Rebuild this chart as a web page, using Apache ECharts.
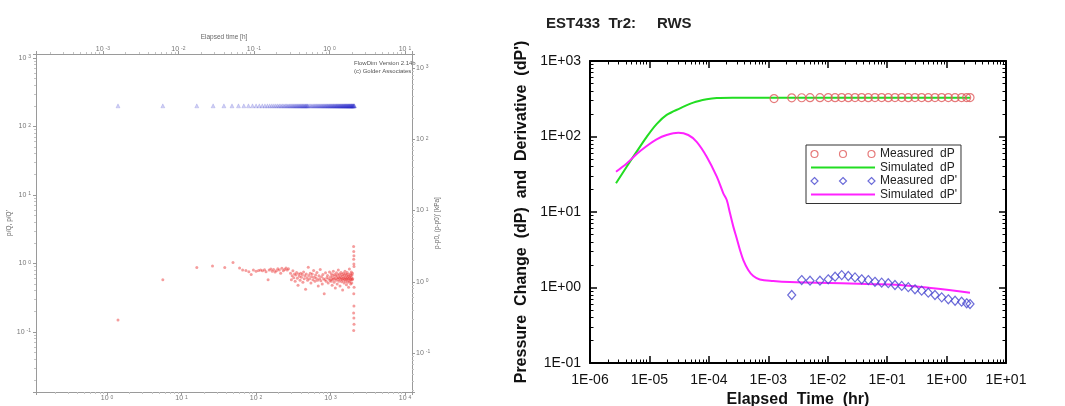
<!DOCTYPE html>
<html><head><meta charset="utf-8">
<script src="https://cdn.jsdelivr.net/npm/echarts@6/dist/echarts.min.js"></script>
<style>html,body{margin:0;padding:0;background:#fff}#c{width:1065px;height:406px}</style>
</head><body><div id="c"></div>
<script>
// ---------- Left panel (FlowDim plot) ----------
// p/Q (blue triangles): [elapsed time s, value]
const lhDp = [[1.4,200],[5.6,200],[16,200],[26.5,200],[37,200],[47.5,200],[58,200],[68.5,200],[79,200],[89.5,200],[100,200],[110.5,200],[121,200],[131.5,200],[142,200],[152.5,200],[163,200],[173.5,200],[184,200],[194.5,200],[205,200],[215.5,200],[226,200],[236.5,200],[247,200],[257.5,200],[268,200],[278.5,200],[289,200],[299.5,200],[310,200],[320.5,200],[331,200],[341.5,200],[352,200],[362.5,200],[373,200],[383.5,200],[394,200],[404.5,200],[415,200],[425.5,200],[436,200],[446.5,200],[457,200],[467.5,200],[478,200],[488.5,200],[499,200],[520,200],[541,200],[562,200],[583,200],[604,200],[625,200],[646,200],[667,200],[688,200],[709,200],[730,200],[751,200],[772,200],[793,200],[814,200],[835,200],[856,200],[877,200],[898,200],[919,200],[940,200],[961,200],[982,200],[1003,200],[1024,200],[1045,200],[1066,200],[1087,200],[1108,200],[1129,200],[1150,200],[1171,200],[1192,200],[1213,200],[1234,200],[1255,200],[1276,200],[1297,200],[1318,200],[1339,200],[1360,200],[1381,200],[1402,200],[1423,200],[1444,200],[1465,200],[1486,200],[1507,200],[1528,200],[1549,200],[1570,200],[1591,200],[1612,200],[1633,200],[1654,200],[1675,200],[1696,200],[1717,200],[1738,200],[1759,200],[1780,200],[1801,200],[1822,200],[1843,200],[1864,200],[1885,200],[1906,200],[1927,200],[1948,200],[1969,200],[1990,200],[2011,200],[2032,200],[2053,200],[2074,200],[2095,200]];
// p/Q' (red dots): [elapsed time s, value]
const lhDer = [[1.4,0.15],[5.6,0.58],[16,0.87],[26,0.92],[38,0.87],[49,1.03],[60,0.86],[66,0.8],[73,0.79],[80,0.76],[86,0.69],[92,0.8],[100,0.77],[108,0.79],[115,0.8],[122,0.78],[130,0.81],[136,0.76],[145,0.58],[150,0.8],[158,0.83],[165,0.77],[172,0.82],[180,0.75],[188,0.78],[196,0.84],[205,0.8],[214,0.72],[222,0.85],[232,0.78],[242,0.82],[252,0.86],[262,0.8],[272,0.84],
[290,0.72],[298,0.58],[305,0.66],[312,0.78],[320,0.62],[328,0.7],[335,0.55],[342,0.68],[350,0.74],[358,0.61],[366,0.48],[374,0.7],[382,0.65],[390,0.57],[398,0.72],[407,0.63],[416,0.69],[425,0.53],[434,0.75],[443,0.6],[452,0.66],[462,0.42],[472,0.7],[482,0.62],[492,0.57],[502,0.88],[512,0.67],[523,0.6],[534,0.72],[545,0.52],[556,0.64],[568,0.7],[580,0.58],[592,0.79],[604,0.63],[617,0.55],[630,0.68],[643,0.61],[656,0.74],[670,0.57],[684,0.47],[698,0.66],[712,0.6],[727,0.82],[742,0.56],[757,0.64],[773,0.5],[789,0.69],[805,0.6],[822,0.36],[839,0.58],[856,0.73],[874,0.55],[892,0.62],[910,0.67],[929,0.52],[948,0.6],[968,0.75],[988,0.57],
[1000,0.64],[1012,0.55],[1025,0.71],[1038,0.6],[1050,0.48],[1063,0.67],[1076,0.58],[1089,0.77],[1102,0.62],[1116,0.53],[1130,0.69],[1144,0.6],[1158,0.44],[1172,0.66],[1186,0.57],[1200,0.73],[1214,0.62],[1228,0.5],[1242,0.68],[1256,0.59],[1270,0.8],[1284,0.63],[1298,0.55],[1312,0.7],[1326,0.61],[1340,0.47],[1354,0.66],[1368,0.58],[1382,0.74],[1396,0.62],[1410,0.54],[1424,0.69],[1438,0.6],[1452,0.41],[1466,0.65],[1480,0.57],[1494,0.72],[1508,0.61],[1522,0.52],[1536,0.68],[1550,0.59],[1564,0.77],[1578,0.63],[1592,0.55],[1606,0.7],[1620,0.6],[1634,0.49],[1648,0.66],[1662,0.58],[1676,0.74],[1690,0.62],[1704,0.53],[1718,0.69],[1732,0.6],[1746,0.45],[1760,0.65],[1774,0.57],[1788,0.83],[1802,0.63],[1816,0.54],[1830,0.7],[1844,0.6],[1858,0.5],[1872,0.67],[1886,0.58],[1900,0.75],[1914,0.62],[1928,0.52],[1942,0.68],[1956,0.58],[1970,0.72],[1984,0.6],
[2040,1.77],[2050,1.5],[2060,1.3],[2045,1.15],[2055,0.98],[2065,0.9],[2070,0.45],[2050,0.36],[2060,0.24],[2040,0.19],[2055,0.16],[2065,0.13],[2045,0.105]];

// ---------- Right panel (EST433 Tr2: RWS) ----------
const measDpTime = [1.25e-3,2.48e-3,3.65e-3,5.04e-3,7.4e-3,1.02e-2,1.33e-2,1.72e-2,2.22e-2,2.88e-2,3.73e-2,4.82e-2,6.24e-2,8.09e-2,0.1045,0.1355,0.176,0.227,0.294,0.381,0.492,0.638,0.828,1.07,1.39,1.79,2.18,2.48];
const measDpValue = [318,325,326,327,327,328,327,328,327,328,328,327,328,328,327,328,328,327,328,328,327,328,328,328,327,328,328,328];
const measDerTime = [2.48e-3,3.65e-3,5.04e-3,7.4e-3,1.02e-2,1.33e-2,1.72e-2,2.22e-2,2.88e-2,3.73e-2,4.82e-2,6.24e-2,8.09e-2,0.1045,0.1355,0.176,0.227,0.294,0.381,0.492,0.638,0.828,1.07,1.39,1.79,2.18,2.48];
const measDerValue = [0.796,1.256,1.23,1.23,1.285,1.39,1.46,1.42,1.36,1.285,1.256,1.19,1.16,1.14,1.08,1.05,1.01,0.947,0.908,0.853,0.796,0.741,0.698,0.668,0.649,0.618,0.604];
const simDpTime = [2.74e-6,4.14e-6,6.1e-6,9.0e-6,1.32e-5,1.95e-5,3.27e-5,5.47e-5,9.2e-5,1.36e-4,2.5e-4,1e-3,1e-2,1e-1,1,2.48];
const simDpValue = [24,39.8,63,99,146,193,236,281,311,324,327,327,327,327,327,327];
const simDerTime = [2.74e-6,4.14e-6,6.1e-6,9.0e-6,1.32e-5,1.95e-5,3.06e-5,4.5e-5,6.24e-5,9.2e-5,1.36e-4,1.75e-4,2.0e-4,2.27e-4,2.58e-4,2.94e-4,3.34e-4,3.8e-4,4.6e-4,5.6e-4,7.2e-4,1.21e-3,2.3e-3,6.5e-3,0.045,0.164,0.6,2.48];
const simDerValue = [34.2,44,58.6,74.8,91.8,104.7,112,104.7,85,54,29.4,17.7,14.4,9.6,6.4,4.5,3.14,2.31,1.71,1.42,1.28,1.22,1.18,1.16,1.11,1.08,0.975,0.85];

const legendNames = ['Measured  dP','Simulated  dP',"Measured  dP'","Simulated  dP'"];

function zip(a,b){return a.map(function(t,i){return [t,b[i]];});}
function isPow(v){var e=Math.log10(v);return Math.abs(e-Math.round(e))<1e-6;}
function supFmt(v){ if(!isPow(v)) return ''; var e=Math.round(Math.log10(v)); return '{a|10 }{b|'+e+'}'; }
function eFmt(v){ if(!isPow(v)) return ''; var e=Math.round(Math.log10(v)); var a=Math.abs(e); return '1E'+(e<0?'-':'+')+(a<10?'0':'')+a; }
// minor tick positions (2..9 x 10^n) inside [lo, hi] – axis decoration only
function minorVals(lo,hi){var out=[];for(var e=Math.floor(Math.log10(lo));e<=Math.ceil(Math.log10(hi));e++){for(var m=2;m<=9;m++){var v=m*Math.pow(10,e);if(v>lo&&v<hi)out.push(v);}}return out;}

const F = 'Liberation Sans';
const supRich = {a:{fontSize:7,color:'#777',fontFamily:F},b:{fontSize:5,color:'#777',fontFamily:F,verticalAlign:'top'}};
const grey = '#9a9a9a';
function lhAxis(extra){
  return Object.assign({
    type:'log', splitLine:{show:false},
    axisLine:{show:true,lineStyle:{color:grey,width:1}},
    axisTick:{show:true,length:3,lineStyle:{color:grey}},
    axisLabel:{formatter:supFmt,rich:supRich,margin:3},
    nameLocation:'middle', nameTextStyle:{fontSize:6.5,color:'#666',fontFamily:F}
  }, extra);
}
function lhMinor(extra, lo, hi){
  return Object.assign({
    type:'log', min:lo, max:hi, splitLine:{show:false}, axisLine:{show:false}, axisLabel:{show:false},
    axisTick:{show:true,length:2,customValues:minorVals(lo,hi),lineStyle:{color:'#c4c4c4'}}
  }, extra);
}
function rhAxis(extra){
  return Object.assign({
    type:'log', splitLine:{show:false},
    axisLine:{show:true,lineStyle:{color:'#000',width:2}},
    axisTick:{show:true,inside:true,length:7,lineStyle:{color:'#000',width:1.5}},
    axisLabel:{formatter:eFmt,fontSize:14,fontFamily:F,color:'#111',margin:10},
    nameLocation:'middle', nameTextStyle:{fontSize:16,fontWeight:'bold',fontFamily:F,color:'#111'}
  }, extra);
}
function rhMinor(extra, lo, hi){
  return Object.assign({
    type:'log', min:lo, max:hi, splitLine:{show:false}, axisLine:{show:false}, axisLabel:{show:false},
    axisTick:{show:true,inside:true,length:3.5,customValues:minorVals(lo,hi),lineStyle:{color:'#000',width:1}}
  }, extra);
}

const circlesPath = 'path://M0,3.5a3.5,3.5 0 1,0 7,0a3.5,3.5 0 1,0 -7,0M28.5,3.5a3.5,3.5 0 1,0 7,0a3.5,3.5 0 1,0 -7,0M57,3.5a3.5,3.5 0 1,0 7,0a3.5,3.5 0 1,0 -7,0';
const diamondsPath = 'path://M3.5,0L7,3.5L3.5,7L0,3.5ZM32,0L35.5,3.5L32,7L28.5,3.5ZM60.5,0L64,3.5L60.5,7L57,3.5Z';
const hideSym = {color:'rgba(0,0,0,0)',borderColor:'rgba(0,0,0,0)',borderWidth:0};

const chart = echarts.init(document.getElementById('c'), null, {renderer:'canvas'});
chart.setOption({
  animation:false,
  backgroundColor:'#fff',
  title:{text:'EST433  Tr2:     RWS', left:541, top:11, textStyle:{fontSize:15,fontWeight:'bold',fontFamily:F,color:'#222'}},
  grid:[
    {left:36, top:54, width:376, height:338, containLabel:false, outerBoundsMode:'none'},
    {left:590, top:61, width:416, height:302, containLabel:false, outerBoundsMode:'none'}
  ],
  xAxis:[
    lhAxis({gridIndex:0, position:'bottom', min:0.111, max:12400, name:'Elapsed time [s]', nameGap:25}),
    lhAxis({gridIndex:0, position:'top', min:1.3e-4, max:12.4, name:'Elapsed time [h]', nameGap:13, axisLabel:{formatter:supFmt,rich:supRich,margin:1}}),
    rhAxis({gridIndex:1, position:'bottom', min:1e-6, max:10, name:'Elapsed  Time  (hr)', nameGap:26}),
    rhAxis({gridIndex:1, position:'top', min:1e-6, max:10, axisLabel:{show:false}}),
    lhMinor({gridIndex:0, position:'bottom'}, 0.111, 12400),
    lhMinor({gridIndex:0, position:'top'}, 1.3e-4, 12.4),
    rhMinor({gridIndex:1, position:'bottom'}, 1e-6, 10),
    rhMinor({gridIndex:1, position:'top'}, 1e-6, 10)
  ],
  yAxis:[
    lhAxis({gridIndex:0, position:'left', min:0.0133, max:1143, name:"p/Q, p/Q'", nameGap:16, axisLabel:{formatter:supFmt,rich:supRich,margin:5}}),
    lhAxis({gridIndex:0, position:'right', min:0.0284, max:1570, name:"p-p0, (p-p0)' [kPa]", nameGap:21, nameRotate:90, axisLabel:{formatter:supFmt,rich:supRich,margin:4}}),
    rhAxis({gridIndex:1, position:'left', min:0.1, max:1000, name:"Pressure  Change  (dP)  and  Derivative  (dP')", nameGap:60, axisLabel:{formatter:eFmt,fontSize:14,fontFamily:F,color:'#111',margin:9}}),
    rhAxis({gridIndex:1, position:'right', min:0.1, max:1000, axisLabel:{show:false}}),
    lhMinor({gridIndex:0, position:'left'}, 0.0133, 1143),
    lhMinor({gridIndex:0, position:'right'}, 0.0284, 1570),
    rhMinor({gridIndex:1, position:'left'}, 0.1, 1000),
    rhMinor({gridIndex:1, position:'right'}, 0.1, 1000)
  ],
  legend:{
    orient:'vertical', left:806, top:145, itemWidth:64, itemHeight:7, itemGap:1.5,
    padding:[3,4,3,4], borderColor:'#333', borderWidth:1, backgroundColor:'#fff',
    textStyle:{fontSize:12,fontFamily:F,color:'#222',lineHeight:11},
    data:[
      {name:legendNames[0], icon:circlesPath, itemStyle:{color:'rgba(0,0,0,0)',borderColor:'#e05a5a',borderWidth:1.2}},
      {name:legendNames[1], itemStyle:hideSym},
      {name:legendNames[2], icon:diamondsPath, itemStyle:{color:'rgba(0,0,0,0)',borderColor:'#4848d0',borderWidth:1.2}},
      {name:legendNames[3], itemStyle:hideSym}
    ]
  },
  graphic:[
    {type:'text', left:354, top:60, style:{text:'FlowDim Version 2.14b', fontSize:6, fontFamily:F, fill:'#555'}},
    {type:'text', left:354, top:68, style:{text:'(c) Golder Associates', fontSize:6, fontFamily:F, fill:'#555'}}
  ],
  series:[
    {name:'lhDp', type:'scatter', xAxisIndex:0, yAxisIndex:0, data:lhDp, symbol:'triangle', symbolSize:4,
     itemStyle:{color:'rgba(60,60,210,0.3)', borderColor:'rgba(40,40,200,0.35)', borderWidth:0.5}},
    {name:'lhDer', type:'scatter', xAxisIndex:0, yAxisIndex:0, data:lhDer, symbol:'circle', symbolSize:3,
     itemStyle:{color:'rgba(235,50,50,0.6)'}},
    {name:legendNames[1], type:'line', xAxisIndex:2, yAxisIndex:2, data:zip(simDpTime,simDpValue), symbol:'none', smooth:0.35,
     lineStyle:{color:'#22dd22', width:2}, itemStyle:{color:'#22dd22'}, z:2},
    {name:legendNames[3], type:'line', xAxisIndex:2, yAxisIndex:2, data:zip(simDerTime,simDerValue), symbol:'none', smooth:0.35,
     lineStyle:{color:'#ff22ff', width:2}, itemStyle:{color:'#ff22ff'}, z:2},
    {name:legendNames[0], type:'scatter', xAxisIndex:2, yAxisIndex:2, data:zip(measDpTime,measDpValue), symbol:'circle', symbolSize:8,
     itemStyle:{color:'rgba(0,0,0,0)', borderColor:'#e05a5a', borderWidth:1.2}, z:3},
    {name:legendNames[2], type:'scatter', xAxisIndex:2, yAxisIndex:2, data:zip(measDerTime,measDerValue), symbol:'diamond', symbolSize:[8,9],
     itemStyle:{color:'rgba(0,0,0,0)', borderColor:'#4848d0', borderWidth:1.2}, z:3}
  ]
});
</script>
</body></html>
